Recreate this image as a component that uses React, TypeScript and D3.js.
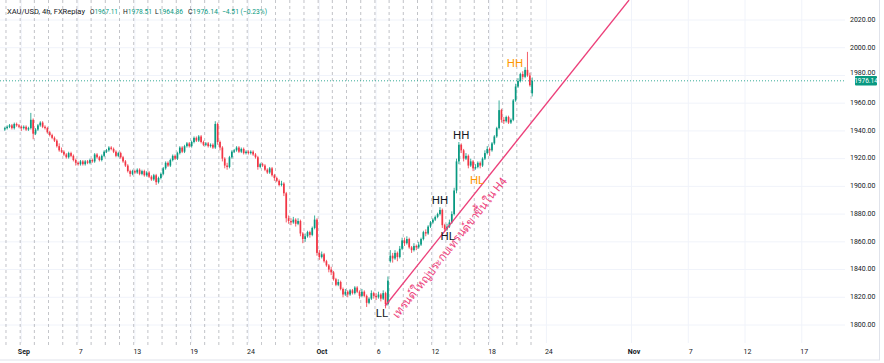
import React, { useEffect } from 'react';
import * as d3 from 'd3';

// ---- DATA ----
// 4h OHLC bars [open, high, low, close], Aug 30 (last bar) .. Oct 23 (first bar)
const bars: [number, number, number, number][] = [
  [1941,1943,1940,1942],
  [1942,1944,1941,1943],[1943,1945,1942,1944],[1944,1945,1941,1942],[1942,1946,1941,1945],[1945,1946,1943,1944],[1944,1945,1942,1943],
  [1943,1944,1940,1942],[1942,1944,1941,1943],[1943,1944,1940,1941],[1941,1943,1940,1942],[1942,1953,1941,1948],[1948,1949,1934,1938],
  [1938,1942,1937,1941],[1941,1945,1940,1944],[1944,1947,1943,1946],[1946,1947,1942,1943],[1943,1944,1941,1942],[1942,1943,1938,1939],
  [1939,1940,1936,1937],[1937,1938,1934,1935],[1935,1936,1932,1933],[1933,1934,1928,1929],[1929,1931,1925,1926],[1926,1928,1924,1925],
  [1925,1926,1922,1923],[1923,1924,1920,1921],[1921,1925,1920,1924],[1924,1925,1921,1922],[1922,1923,1918,1919],[1919,1920,1915,1917],
  [1917,1918,1915,1916],[1916,1919,1915,1918],[1918,1919,1915,1916],[1916,1919,1915,1918],[1918,1919,1916,1917],[1917,1920,1916,1919],
  [1919,1920,1917,1918],[1918,1924,1917,1923],[1923,1924,1920,1921],[1921,1922,1918,1919],[1919,1923,1918,1922],[1922,1926,1921,1925],
  [1925,1927,1924,1926],[1926,1929,1925,1928],[1928,1929,1926,1927],[1927,1928,1924,1925],[1925,1926,1921,1922],[1922,1925,1921,1924],
  [1924,1925,1920,1921],[1921,1922,1917,1918],[1918,1919,1914,1915],[1915,1916,1910,1911],[1911,1912,1907,1909],[1909,1912,1908,1911],
  [1911,1912,1909,1910],[1910,1913,1909,1912],[1912,1913,1908,1909],[1909,1912,1908,1911],[1911,1912,1907,1908],[1908,1911,1907,1910],
  [1910,1911,1906,1907],[1907,1908,1904,1905],[1905,1909,1904,1908],[1908,1909,1901,1903],[1903,1907,1902,1906],[1906,1910,1905,1909],
  [1909,1914,1908,1913],[1913,1918,1912,1917],[1917,1918,1914,1915],[1915,1920,1914,1919],[1919,1923,1918,1922],[1922,1923,1919,1920],
  [1920,1925,1919,1924],[1924,1929,1923,1928],[1928,1929,1924,1925],[1925,1930,1924,1929],[1929,1932,1928,1931],[1931,1932,1928,1929],
  [1929,1933,1928,1932],[1932,1936,1931,1935],[1935,1936,1932,1933],[1933,1937,1932,1936],[1936,1937,1931,1932],[1932,1933,1929,1930],
  [1930,1932,1929,1931],[1931,1932,1928,1929],[1929,1931,1928,1930],[1930,1931,1927,1928],[1928,1947,1927,1945],[1945,1946,1930,1932],
  [1932,1933,1926,1928],[1928,1929,1918,1920],[1920,1921,1913,1915],[1915,1917,1912,1914],[1914,1922,1913,1921],[1921,1926,1920,1925],
  [1925,1927,1924,1926],[1926,1929,1925,1928],[1928,1929,1924,1925],[1925,1928,1924,1927],[1927,1928,1923,1924],[1924,1926,1923,1925],
  [1925,1926,1923,1924],[1924,1926,1923,1925],[1925,1926,1922,1923],[1923,1924,1920,1921],[1921,1922,1912,1914],[1914,1917,1913,1916],
  [1916,1917,1914,1915],[1915,1916,1911,1912],[1912,1913,1909,1910],[1910,1914,1909,1913],[1913,1914,1907,1908],[1908,1909,1904,1906],
  [1906,1907,1903,1904],[1904,1905,1900,1901],[1901,1904,1900,1902],[1902,1903,1893,1895],[1895,1896,1874,1877],[1877,1879,1873,1875],
  [1875,1877,1872,1874],[1874,1878,1873,1876],[1876,1877,1871,1873],[1873,1877,1872,1875],[1875,1876,1864,1866],[1866,1867,1859,1862],
  [1862,1866,1860,1864],[1864,1868,1863,1867],[1867,1868,1863,1865],[1865,1871,1864,1870],[1870,1879,1869,1876],[1876,1877,1850,1852],
  [1852,1854,1847,1849],[1849,1853,1848,1851],[1851,1852,1845,1846],[1846,1847,1842,1843],[1843,1844,1838,1840],[1840,1842,1836,1838],
  [1838,1839,1832,1833],[1833,1834,1828,1829],[1829,1833,1828,1831],[1831,1832,1825,1826],[1826,1827,1820,1822],[1822,1826,1821,1824],
  [1824,1825,1820,1822],[1822,1826,1821,1825],[1825,1826,1822,1823],[1823,1828,1822,1827],[1827,1828,1823,1824],[1824,1825,1819,1821],
  [1821,1826,1820,1824],[1824,1825,1820,1821],[1821,1822,1813,1816],[1816,1820,1815,1819],[1819,1825,1818,1823],[1823,1824,1819,1821],
  [1821,1823,1818,1820],[1820,1824,1819,1822],[1822,1823,1817,1819],[1819,1825,1818,1823],[1823,1824,1812,1815],[1815,1835,1814,1832],
  [1846,1854,1845,1850],[1850,1852,1845,1848],[1848,1854,1847,1852],[1852,1853,1846,1849],[1849,1857,1848,1855],[1855,1863,1854,1861],
  [1861,1863,1857,1859],[1859,1864,1858,1862],[1862,1863,1855,1856],[1856,1857,1852,1854],[1854,1859,1853,1857],[1857,1858,1854,1856],
  [1856,1860,1855,1858],[1858,1863,1857,1862],[1862,1868,1861,1867],[1867,1869,1864,1866],[1866,1872,1865,1871],[1871,1875,1870,1874],
  [1874,1877,1873,1876],[1876,1879,1875,1878],[1878,1881,1877,1880],[1880,1885,1879,1883],[1883,1884,1870,1872],[1872,1873,1867,1869],
  [1869,1873,1868,1871],[1871,1876,1870,1874],[1874,1882,1873,1880],[1880,1899,1879,1897],[1897,1920,1895,1918],[1918,1932,1916,1930],
  [1930,1931,1924,1926],[1926,1927,1918,1920],[1920,1924,1919,1922],[1922,1923,1913,1915],[1915,1920,1914,1918],[1918,1919,1911,1913],
  [1913,1916,1912,1914],[1914,1918,1913,1917],[1917,1918,1913,1915],[1915,1921,1914,1920],[1920,1926,1919,1924],[1924,1929,1923,1927],
  [1927,1928,1922,1926],[1926,1932,1925,1931],[1931,1937,1930,1936],[1936,1943,1935,1942],[1942,1962,1941,1955],[1955,1956,1946,1948],
  [1948,1950,1945,1947],[1947,1951,1946,1950],[1950,1951,1945,1946],[1946,1949,1945,1948],[1948,1963,1947,1962],[1962,1974,1961,1972],
  [1972,1978,1971,1976],[1976,1982,1975,1981],[1981,1983,1977,1979],[1979,1986,1978,1984],[1984,1997,1979,1980],[1980,1982,1972,1973],
  [1967.11,1978.51,1964.86,1976.14],
];

const barsPerSession = 6;
const sessionSeparators = d3.range(0, 38); // session boundaries drawn as dashed lines
const priceTicks = [1800, 1820, 1840, 1860, 1880, 1900, 1920, 1940, 1960, 1980, 2000, 2020];
const timeTickSessions = [1, 5, 9, 13, 17, 22, 26, 30, 34, 38, 44, 48, 52, 56];
const timeTickLabels = ['Sep', '7', '13', '19', '24', 'Oct', '6', '12', '18', '24', 'Nov', '7', '12', '17'];
const monthNames = ['Sep', 'Oct', 'Nov'];

const annotationTexts = ['LL', 'HH', 'HL', 'HH', 'HL', 'HH'];
const annotationBars = [159.5, 184, 187.3, 193, 199.7, 215.7];
const annotationPrices = [1807.9, 1889.4, 1863.5, 1936.2, 1903.8, 1988];
const annotationKinds = ['black', 'black', 'black', 'black', 'orange', 'orange'];

const trendPoints: [number, number][] = [[160.8, 1813.7], [250.4, 2005.4]];
const trendText = 'เทรนด์ใหญ่ประกบเทรนด์ขาขึ้นใน H4';
const trendTextBar = 183.4;

const lastPrice = 1976.14;
const headerSymbol = 'XAU/USD, 4h, FXReplay';
const headerValues = [['O', '1967.11'], ['H', '1978.51'], ['L', '1964.86'], ['C', '1976.14']];
const headerChange = '−4.51 (−0.23%)';

// ---- LAYOUT ----
const W = 884, H = 363;
const plotRight = 845, plotBottom = 343;
const UP = '#089981', DOWN = '#f23645', TEXT = '#131722', PINK = '#ec407a', ORANGE = '#ff9800';
const FONT = 'Roboto, "Noto Sans", sans-serif';
const headerGroupX = [90, 123, 155, 188];
const headerGroupW = [28, 29, 28, 30];

export default function App() {
  useEffect(() => {
    document.body.style.margin = '0';
  }, []);

  const x = d3.scaleLinear().domain([0, 1]).range([4.8, 4.8 + 2.365]);
  const y = d3.scaleLinear().domain([1800, 2020]).range([325, 20]);

  const sepX = (k: number) => (x(k * barsPerSession) + x(k * barsPerSession + 1)) / 2;
  const tickX = (k: number) => x(k * barsPerSession + 1) + 2.5;

  // trend line extended to plot top
  const [p1, p2] = trendPoints;
  const X1 = x(p1[0]), Y1 = y(p1[1]), X2 = x(p2[0]), Y2 = y(p2[1]);
  const slope = (Y2 - Y1) / (X2 - X1);
  const Xtop = X1 + (0 - Y1) / slope;
  const angle = (Math.atan2(Y2 - Y1, X2 - X1) * 180) / Math.PI;
  const txLineX = x(trendTextBar);
  const txLineY = Y1 + slope * (txLineX - X1);
  const len = Math.hypot(X2 - X1, Y2 - Y1);
  const nX = Math.abs((Y2 - Y1) / len), nY = Math.abs((X2 - X1) / len); // normal pointing down-right
  const textX = txLineX + nX * 15, textY = txLineY + nY * 15;

  const lastY = y(lastPrice);

  return (
    <svg width={W} height={H} style={{ display: 'block', background: '#fff' }} fontFamily={FONT}>
      <defs>
        <clipPath id="plot">
          <rect x={0} y={0} width={plotRight} height={plotBottom} />
        </clipPath>
      </defs>
      {/* horizontal grid */}
      {priceTicks.map((p) => (
        <line key={'hg' + p} x1={0} x2={plotRight} y1={y(p)} y2={y(p)} stroke="#f0f3fa" strokeWidth={1} />
      ))}
      {/* vertical grid at time ticks */}
      {timeTickSessions.map((k, i) => (
        <line key={'vg' + i} x1={tickX(k) - 2.5} x2={tickX(k) - 2.5} y1={0} y2={plotBottom} stroke="#f0f3fa" strokeWidth={1} />
      ))}
      {/* session separators */}
      {sessionSeparators.map((k) => (
        <line key={'sep' + k} x1={sepX(k)} x2={sepX(k)} y1={0} y2={plotBottom + 3}
          stroke="#8a8d96" strokeWidth={0.8} strokeDasharray="3,3" opacity={0.65} />
      ))}
      <g clipPath="url(#plot)">
        {/* candles */}
        {bars.map(([o, h, l, c], i) => {
          const col = c >= o ? UP : DOWN;
          const cx = x(i);
          const top = y(Math.max(o, c));
          const bh = Math.max(1, y(Math.min(o, c)) - top);
          return (
            <g key={'b' + i}>
              <line x1={cx} x2={cx} y1={y(h)} y2={y(l)} stroke={col} strokeWidth={0.8} />
              <rect x={cx - 0.85} y={top} width={1.7} height={bh} fill={col} />
            </g>
          );
        })}
        {/* last price line */}
        <line x1={0} x2={plotRight + 10} y1={lastY} y2={lastY} stroke={UP} strokeWidth={1} strokeDasharray="1,2" opacity={0.8} />
        {/* trend line */}
        <line x1={X1} y1={Y1} x2={Xtop} y2={0} stroke={PINK} strokeWidth={1.3} />
        <text x={textX} y={textY} fill={PINK} fontSize={11.5} textAnchor="middle" dominantBaseline="middle"
          textLength={176} lengthAdjust="spacingAndGlyphs"
          transform={`rotate(${angle} ${textX} ${textY})`}>{trendText}</text>
        {/* annotations */}
        {annotationTexts.map((t, i) => (
          <text key={'an' + i} x={x(annotationBars[i])} y={y(annotationPrices[i])} fontSize={11.5}
            textAnchor="middle" dominantBaseline="middle"
            fill={annotationKinds[i] === 'orange' ? ORANGE : TEXT}>{t}</text>
        ))}
      </g>
      {/* price axis labels */}
      {priceTicks.map((p) => (
        <text key={'pl' + p} x={850} y={p === 1980 ? y(p) - 2 : y(p)} fontSize={7} fill={TEXT} dominantBaseline="middle">
          {p.toFixed(2)}
        </text>
      ))}
      {/* last price label */}
      <rect x={855} y={lastY - 4.7} width={22} height={9.4} fill={UP} rx={1} />
      <text x={866} y={lastY + 0.3} fontSize={6.5} fill="#fff" textAnchor="middle" dominantBaseline="middle">
        {lastPrice.toFixed(2)}
      </text>
      {/* time axis labels */}
      {timeTickSessions.map((k, i) => (
        <text key={'tl' + i} x={tickX(k)} y={352} fontSize={7} fill={TEXT} textAnchor="middle"
          dominantBaseline="middle" fontWeight={monthNames.includes(timeTickLabels[i]) ? 700 : 400}>
          {timeTickLabels[i]}
        </text>
      ))}
      {/* header */}
      <text x={7} y={14} fontSize={7.8} fill={TEXT} textLength={78} lengthAdjust="spacingAndGlyphs">{headerSymbol}</text>
      {headerValues.map(([k, v], i) => (
        <text key={'hv' + i} x={headerGroupX[i]} y={14} fontSize={7.6}
          textLength={headerGroupW[i]} lengthAdjust="spacingAndGlyphs">
          <tspan fill={TEXT}>{k}</tspan>
          <tspan fill={UP}>{v}</tspan>
        </text>
      ))}
      <text x={222} y={14} fontSize={7.6} fill={UP} textLength={45} lengthAdjust="spacingAndGlyphs">{headerChange}</text>
      {/* borders */}
      <line x1={0} x2={880} y1={360} y2={360} stroke="#e0e3eb" />
      <line x1={879.5} x2={879.5} y1={0} y2={360} stroke="#e0e3eb" />
    </svg>
  );
}
